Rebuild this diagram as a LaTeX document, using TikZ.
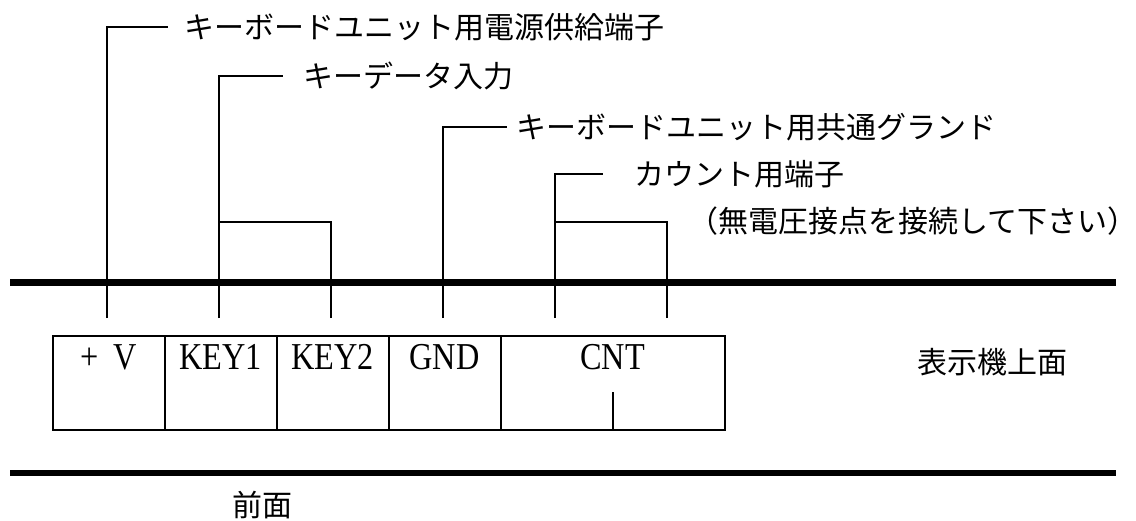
\documentclass[tikz,border=0pt]{standalone}
\usepackage{fontspec}
\setmainfont{Liberation Serif}
\newfontfamily\jpfont{Noto Sans CJK JP}
\newfontfamily\cellfont[FakeStretch=0.85]{Liberation Serif}
\usetikzlibrary{positioning}
\tikzset{
    lead/.style={line width=1pt}, % the thin wires
    rail/.style={line width=3.25pt}, % the thick edges of the panel
    cell/.style={draw, line width=1pt, inner sep=0pt, outer sep=0pt,
        minimum width=56pt, text height=16.75pt, text depth=30.25pt,
        font=\cellfont\fontsize{19}{22}\selectfont}, % one terminal of the block
    tag/.style={font=\jpfont\fontsize{15}{18}\selectfont, inner sep=0pt}, % japanese labels
}
\begin{document}
\begin{tikzpicture}[x=0.5pt, y=-0.5pt]
\useasboundingbox (0,0) rectangle (1136,520);
% terminal block
\node[cell] (pv) at (108.5,383) {+ \,V};
\node[cell, right=0pt of pv] (key1) {KEY1};
\node[cell, right=0pt of key1] (key2) {KEY2};
\node[cell, right=0pt of key2] (gnd) {GND};
\node[cell, right=0pt of gnd, minimum width=112pt] (cnt) {CNT};
\coordinate (cntin) at (614,392);
\draw[lead] (cnt.south) -- (cnt.south |- cntin);
% panel edges
\draw[rail] (10,282.5) -- (1116,282.5);
\draw[rail] (10,473) -- (1116,473);
% wire ends above the block
\foreach \x [count=\i] in {107,219,331,443,555,667}
    \coordinate (t\i) at (\x,318);
\coordinate (a1) at (168,27);
\coordinate (a2) at (283,76);
\coordinate (a3) at (507,127);
\coordinate (a4) at (603,174);
\coordinate (j1) at (219,222);
\coordinate (j2) at (555,222);
% labels
\node[tag, right=8pt of a1, anchor=west] (l1) {キーボードユニット用電源供給端子};
\node[tag, right=10pt of a2, anchor=west] (l2) {キーデータ入力};
\node[tag, right=4.5pt of a3, anchor=west] (l3) {キーボードユニット用共通グランド};
\node[tag, right=15.5pt of a4, anchor=west] (l4) {カウント用端子};
\node[tag, anchor=west] (l5) at (688,221) {（無電圧接点を接続して下さい）};
\node[tag, anchor=west] (top) at (917,362) {表示機上面};
\node[tag] (front) at (262,505) {前面};
% wires
\draw[lead] (t1) |- (a1);
\draw[lead] (t2) |- (a2);
\draw[lead] (t3) |- (j1);
\draw[lead] (t4) |- (a3);
\draw[lead] (t5) |- (a4);
\draw[lead] (t6) |- (j2);
\end{tikzpicture}
\end{document}
